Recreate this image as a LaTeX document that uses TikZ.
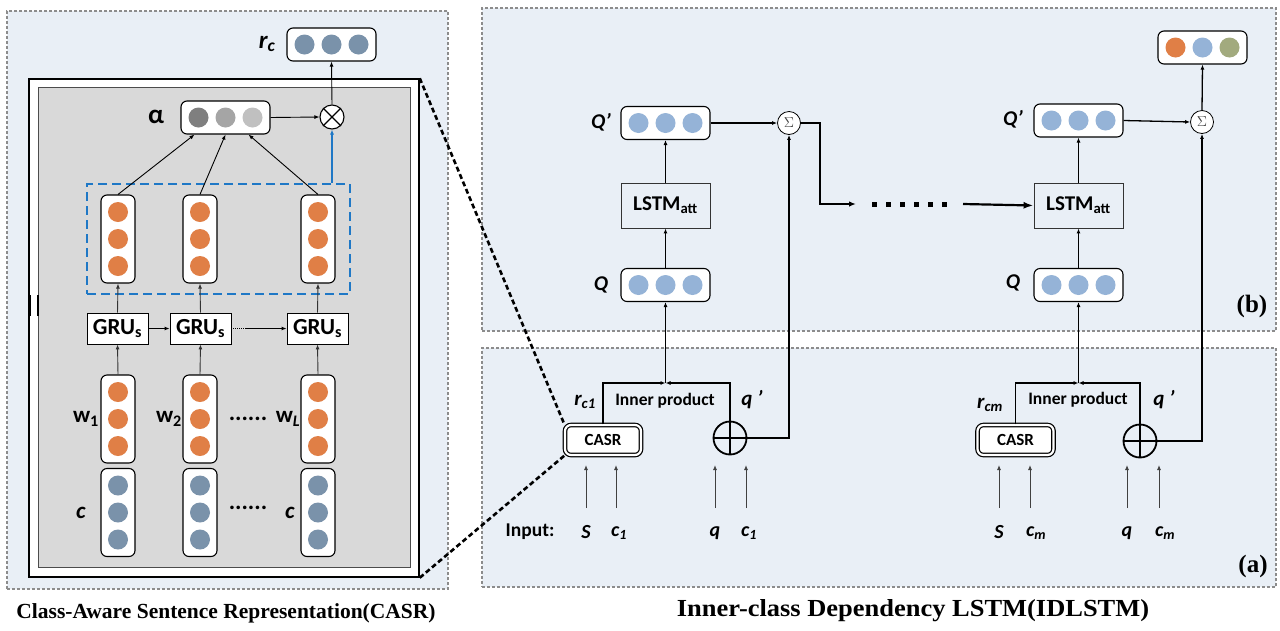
\documentclass[tikz,border=0pt]{standalone}
\usepackage{fontspec}
\setmainfont{Liberation Serif}
\newfontfamily\labf{Carlito}
\usetikzlibrary{arrows.meta,calc,fit}
\definecolor{panelbg}{HTML}{E9EFF6}
\definecolor{panelln}{HTML}{8C8C8C}
\definecolor{grayin}{HTML}{D9D9D9}
\definecolor{orng}{HTML}{E07F46}
\definecolor{slate}{HTML}{7A92AA}
\definecolor{lblue}{HTML}{95B3D7}
\definecolor{olive}{HTML}{A2AA7E}
\definecolor{gA}{HTML}{7F7F7F}
\definecolor{gB}{HTML}{A5A5A5}
\definecolor{gC}{HTML}{C0C0C0}
\definecolor{bluedash}{HTML}{1F78C6}
\newcommand\hvecbox[5]{%
  \node[hbox] (#1) at #2 {};
  \fill[#3] ($(#1)+(-27,0)$) circle (10pt);
  \fill[#4] (#1) circle (10pt);
  \fill[#5] ($(#1)+(27,0)$) circle (10pt);}
\newcommand\vvecbox[3]{%
  \node[vbox] (#1) at #2 {};
  \fill[#3] ($(#1)+(0,-27)$) circle (10pt);
  \fill[#3] (#1) circle (10pt);
  \fill[#3] ($(#1)+(0,27)$) circle (10pt);}
\begin{document}
\begin{tikzpicture}[x=1pt,y=-1pt,
  >={Latex[length=5pt,width=4pt]},
  panel/.style={draw=panelln, line width=1.2pt, dash pattern=on 3pt off 2pt, fill=panelbg, inner sep=0pt},
  hbox/.style={draw, line width=1.1pt, fill=white, rounded corners=6pt, minimum width=89pt, minimum height=33pt, inner sep=0pt},
  vbox/.style={draw, line width=1.1pt, fill=white, rounded corners=6pt, minimum width=34pt, minimum height=88pt, inner sep=0pt},
  gru/.style={draw, line width=0.9pt, fill=white, minimum width=61pt, minimum height=31pt, inner sep=0pt, font=\labf\bfseries\fontsize{23}{24}\selectfont},
  lstm/.style={draw=black!80, line width=0.9pt, fill=panelbg, minimum width=89pt, minimum height=45pt, inner sep=0pt, font=\labf\bfseries\fontsize{21}{22}\selectfont},
  casr/.style={draw, double, double distance=2.2pt, line width=1.2pt, fill=white, rounded corners=6pt, minimum width=76pt, minimum height=30pt, inner sep=0pt, font=\labf\bfseries\fontsize{17}{18}\selectfont},
  oplusnode/.style={circle, draw, line width=1.8pt, minimum size=33pt, inner sep=0pt},
  sumnode/.style={circle, draw, line width=0.8pt, fill=white, minimum size=23pt, inner sep=0pt, font=\fontsize{15}{15}\selectfont, text=black!75},
  otimesnode/.style={circle, draw, line width=1.1pt, fill=white, minimum size=24pt, inner sep=0pt},
  lbl/.style={inner sep=0pt, font=\labf\bfseries\fontsize{#1}{#1}\selectfont},
  thin/.style={line width=0.9pt},
  med/.style={line width=1.3pt},
  inarrow/.style={->, black!75, line width=0.9pt},
  zoomline/.style={line width=2.6pt, dash pattern=on 5pt off 3pt},
  cap/.style={inner sep=0pt, font=\bfseries\fontsize{#1}{#1}\selectfont}
]
\useasboundingbox (0,0) rectangle (1280,630);
\fill[white] (0,0) rectangle (1280,630);

% ---------------- left panel ----------------
\node[panel, fit={(7,11) (448,589)}] (leftpanel) {};
\node[draw, line width=1.5pt, fill=white, inner sep=0pt, fit={(29,79) (419,577)}] (frame) {};
\node[draw=black!70, line width=1pt, fill=grayin, inner sep=0pt, fit={(38,87) (410,567)}] (inner) {};
\draw[line width=2.6pt] (30,295) -- (30,316);
\draw[line width=2pt] (37.5,295) -- (37.5,316);

\node[draw=bluedash, line width=1.8pt, dash pattern=on 9pt off 5pt, inner sep=0pt, fit={(87,184) (350,294)}] (bluebox) {};

\vvecbox{h1}{(118,239)}{orng}
\vvecbox{h2}{(200,239)}{orng}
\vvecbox{h3}{(318,239)}{orng}
\vvecbox{w1}{(118,419)}{orng}
\vvecbox{w2}{(200,419)}{orng}
\vvecbox{w3}{(318,419)}{orng}
\vvecbox{c1}{(118,512.5)}{slate}
\vvecbox{c2}{(200,512.5)}{slate}
\vvecbox{c3}{(318,512.5)}{slate}

\node[gru] (g1) at (117.5,328.5) {GRU\textsubscript{s}};
\node[gru] (g2) at (200.5,328.5) {GRU\textsubscript{s}};
\node[gru] (g3) at (317.5,328.5) {GRU\textsubscript{s}};

\hvecbox{alpha}{(225.5,117.5)}{gA}{gB}{gC}
\hvecbox{rc}{(331.5,44.5)}{slate}{slate}{slate}
\node[otimesnode] (ot) at (332,117) {};
\draw[line width=1.1pt] (ot.north east) -- (ot.south west) (ot.north west) -- (ot.south east);

\node[lbl=25] (lrc) at (267,44) {\textit{r\textsubscript{c}}};
\node[lbl=27] (lalpha) at (156,117) {α};
\node[lbl=23] (lw1) at (86,419) {w\textsubscript{1}};
\node[lbl=23] (lw2) at (169,419) {w\textsubscript{2}};
\node[lbl=23] (lw3) at (288,419) {w\textsubscript{\textit{L}}};
\node[lbl=24] (ldw) at (248,419) {......};
\node[lbl=23] (lc1) at (81,513) {\textit{c}};
\node[lbl=24] (ldc) at (248,508) {......};
\node[lbl=23] (lc3) at (290,513) {\textit{c}};

\foreach \i in {1,2,3}{
  \draw[->, thin, black!80] (w\i.north) -- (g\i.south);
  \draw[->, thin, black!80] (g\i.north) -- (h\i.south);
}
\draw[->, thin] (g1.east) -- (g2.west);
\coordinate (gdot) at ($(g2.east)+(14,0)$);
\draw[thin, dash pattern=on 1pt off 1pt] (g2.east) -- (gdot);
\draw[->, thin] (gdot) -- (g3.west);

\draw[->, thin] (h1.north) -- ($(alpha.south)+(-31,0)$);
\draw[->, thin] (h2.north) -- ($(alpha.south)+(0,0)$);
\draw[->, thin] (h3.north) -- ($(alpha.south)+(23,0)$);
\draw[->, thin] (alpha.east) -- (ot.west);
\draw[->, thin] (ot.north) -- (rc.south);
\draw[->, thin, bluedash, line width=1.3pt] (bluebox.north -| ot) -- (ot.south);

\node[cap=21.5] (cap1) at (226,613) {Class-Aware Sentence Representation(CASR)};

% ---------------- right panels ----------------
\node[panel, fit={(482,8) (1276,331)}] (pb) {};
\node[panel, fit={(482,348) (1276,587)}] (pa) {};
\node[cap=25] (lb) at (1252,306) {(b)};
\node[cap=25] (la) at (1253,566) {(a)};

% column 1 (b)
\hvecbox{qp1}{(665.5,123)}{lblue}{lblue}{lblue}
\node[lstm] (ls1) at (665.5,205.5) {LSTM\textsubscript{att}};
\hvecbox{q1}{(665.5,285)}{lblue}{lblue}{lblue}
\node[lbl=21] (lqp1) at (601,122) {\textit{Q’}};
\node[lbl=21] (lq1) at (601,285) {\textit{Q}};
\node[sumnode] (s1) at (789,123) {$\Sigma$};
\draw[->, med] (q1.north) -- (ls1.south);
\draw[->, med] (ls1.north) -- (qp1.south);
\draw[->, med] (qp1.east) -- (s1.west);
\coordinate (k1) at (820,204);
\coordinate (k2) at (856,204);
\draw[->, line width=1.6pt, -{Latex[length=7pt,width=5.5pt]}] (s1.east) -| (k1) -- (k2);
\draw[line width=5pt, dash pattern=on 5pt off 9pt] (872,204) -- (950,204);

% column 2 (b)
\hvecbox{qp2}{(1078.5,120.5)}{lblue}{lblue}{lblue}
\node[lstm] (ls2) at (1078.5,205.5) {LSTM\textsubscript{att}};
\hvecbox{q2}{(1078.5,285)}{lblue}{lblue}{lblue}
\node[lbl=21] (lqp2) at (1013,119) {\textit{Q’}};
\node[lbl=21] (lq2) at (1013,283) {\textit{Q}};
\node[sumnode] (s2) at (1202,122) {$\Sigma$};
\hvecbox{out}{(1202.5,47.5)}{orng}{lblue}{olive}
\coordinate (k3) at (963,204);
\draw[line width=2.2pt, -{Latex[length=10pt,width=7pt]}] (k3) -- (ls2.west);
\draw[->, med] (q2.north) -- (ls2.south);
\draw[->, med] (ls2.north) -- (qp2.south);
\draw[->, med] (qp2.east) -- (s2.west);
\draw[->, med] (s2.north) -- (out.south);

% column 1 (a)
\node[casr] (casr1) at (603,440) {CASR};
\node[oplusnode] (op1) at (730,438) {};
\draw[line width=1.8pt] (op1.north) -- (op1.south) (op1.west) -- (op1.east);
\coordinate (j1) at (q1.south |- 0,383);
\draw[->, med] (casr1.north) |- (j1);
\draw[->, med] (op1.north) |- (j1);
\draw[->, med] (j1) -- (q1.south);
\draw[->, med] (op1.east) -| (s1.south);
\node[lbl=21] (lrc1) at (585,402) {\textit{r\textsubscript{c1}}};
\node[lbl=17.5] (lip1) at (665,401) {Inner product};
\node[lbl=21] (lqq1) at (752,400) {\textit{q ’}};
\node[lbl=19.5] (lin) at (530,532) {Input:};
\node[lbl=20] (ls1l) at (586,532) {\textit{S}};
\node[lbl=20] (lc1a) at (619,533) {\textit{c\textsubscript{1}}};
\node[lbl=20] (lq1a) at (715,533) {\textit{q}};
\node[lbl=20] (lc1b) at (749,533) {\textit{c\textsubscript{1}}};
\foreach \x [count=\n] in {586,616,715,746}{
  \coordinate (ia\n) at (\x,508);
  \coordinate (ib\n) at (\x,465);
  \draw[inarrow] (ia\n) -- (ib\n);
}

% column 2 (a)
\node[casr] (casr2) at (1015.5,440) {CASR};
\node[oplusnode] (op2) at (1140,441) {};
\draw[line width=1.8pt] (op2.north) -- (op2.south) (op2.west) -- (op2.east);
\coordinate (j2) at (q2.south |- 0,383);
\draw[->, med] (casr2.north) |- (j2);
\draw[->, med] (op2.north) |- (j2);
\draw[->, med] (j2) -- (q2.south);
\draw[->, med] (op2.east) -| (s2.south);
\node[lbl=21] (lrcm) at (990,405) {\textit{r\textsubscript{cm}}};
\node[lbl=17.5] (lip2) at (1078,400) {Inner product};
\node[lbl=21] (lqq2) at (1164,400) {\textit{q ’}};
\node[lbl=20] (ls2l) at (999,532) {\textit{S}};
\node[lbl=20] (lcma) at (1036,533) {\textit{c\textsubscript{m}}};
\node[lbl=20] (lq2a) at (1127,533) {\textit{q}};
\node[lbl=20] (lcmb) at (1165,533) {\textit{c\textsubscript{m}}};
\foreach \x [count=\n] in {999,1030,1127,1159}{
  \coordinate (ic\n) at (\x,508);
  \coordinate (id\n) at (\x,465);
  \draw[inarrow] (ic\n) -- (id\n);
}

% zoom lines
\draw[zoomline] (frame.north east) -- (casr1.north west);
\draw[zoomline] (frame.south east) -- (casr1.south west);

\node[cap=24.5] (cap2) at (913,611) {\scalebox{1.08}[1]{Inner-class Dependency LSTM(IDLSTM)}};
\end{tikzpicture}
\end{document}
